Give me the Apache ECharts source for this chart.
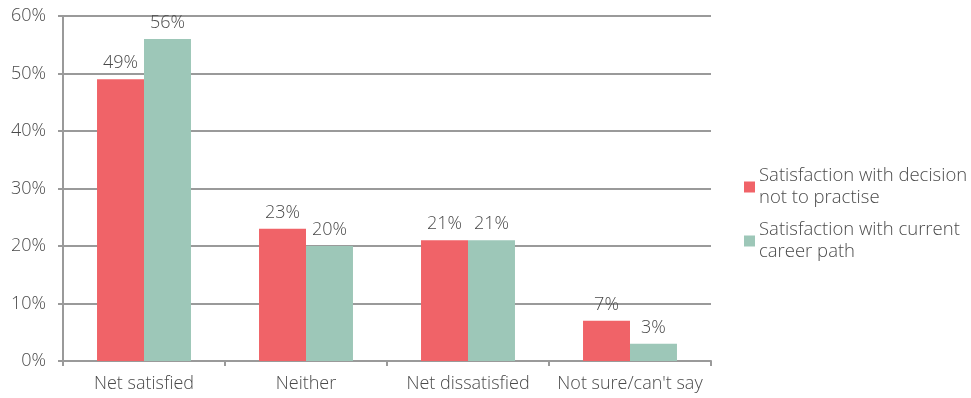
<!DOCTYPE html>
<html>
<head>
<meta charset="utf-8">
<script src="https://cdn.jsdelivr.net/npm/echarts@6/dist/echarts.min.js"></script>
<style>
  html, body { margin: 0; padding: 0; background: #fff; }
  #chart { width: 971px; height: 398px; }
</style>
</head>
<body>
<div id="chart"></div>
<script>
var categories = ['Net satisfied', 'Neither', 'Net dissatisfied', 'Not sure/can\'t say']
var decisionValues = [49, 23, 21, 7]
var careerValues = [56, 20, 21, 3]
var seriesNames = ['Satisfaction with decision\nnot to practise', 'Satisfaction with current\ncareer path']

var fontFamily = 'Open Sans'
var textColor = '#4a4a4a'
var lineColor = '#9a9a9a'

var chart = echarts.init(document.getElementById('chart'))

var labelStyle = {
  show: true,
  position: 'top',
  distance: 7,
  color: textColor,
  fontFamily: fontFamily,
  fontWeight: 300,
  fontSize: 18,
  formatter: '{c}%'
}

chart.setOption({
  animation: false,
  textStyle: { fontFamily: fontFamily },
  grid: { left: 63, right: 260, top: 16, bottom: 37 },
  legend: {
    orient: 'vertical',
    left: 744,
    top: 165,
    padding: 0,
    itemWidth: 11,
    itemHeight: 11,
    itemGap: 10,
    icon: 'rect',
    textStyle: { color: textColor, fontSize: 18.5, fontWeight: 300, lineHeight: 22, fontFamily: fontFamily, padding: [0, 0, 0, -1] },
    data: seriesNames
  },
  xAxis: {
    type: 'category',
    data: categories,
    axisLine: { lineStyle: { color: lineColor, width: 2 } },
    axisTick: { show: true, length: 5, lineStyle: { color: lineColor, width: 2 } },
    axisLabel: { interval: 0, color: textColor, fontSize: 18, fontWeight: 300, margin: 14, fontFamily: fontFamily }
  },
  yAxis: {
    type: 'value',
    min: 0,
    max: 60,
    interval: 10,
    axisLine: { show: true, lineStyle: { color: lineColor, width: 2 } },
    axisTick: { show: true, length: 5, lineStyle: { color: lineColor, width: 2 } },
    splitLine: { lineStyle: { color: lineColor, width: 2 } },
    axisLabel: { color: textColor, fontSize: 18, fontWeight: 300, margin: 17, fontFamily: fontFamily, formatter: '{value}%' }
  },
  series: [{
    name: seriesNames[0],
    type: 'bar',
    data: decisionValues,
    barGap: 0,
    barCategoryGap: '42%',
    itemStyle: { color: '#F06368' },
    label: labelStyle
  }, {
    name: seriesNames[1],
    type: 'bar',
    data: careerValues,
    barGap: 0,
    barCategoryGap: '42%',
    itemStyle: { color: '#9DC7B8' },
    label: labelStyle
  }]
})
</script>
</body>
</html>
